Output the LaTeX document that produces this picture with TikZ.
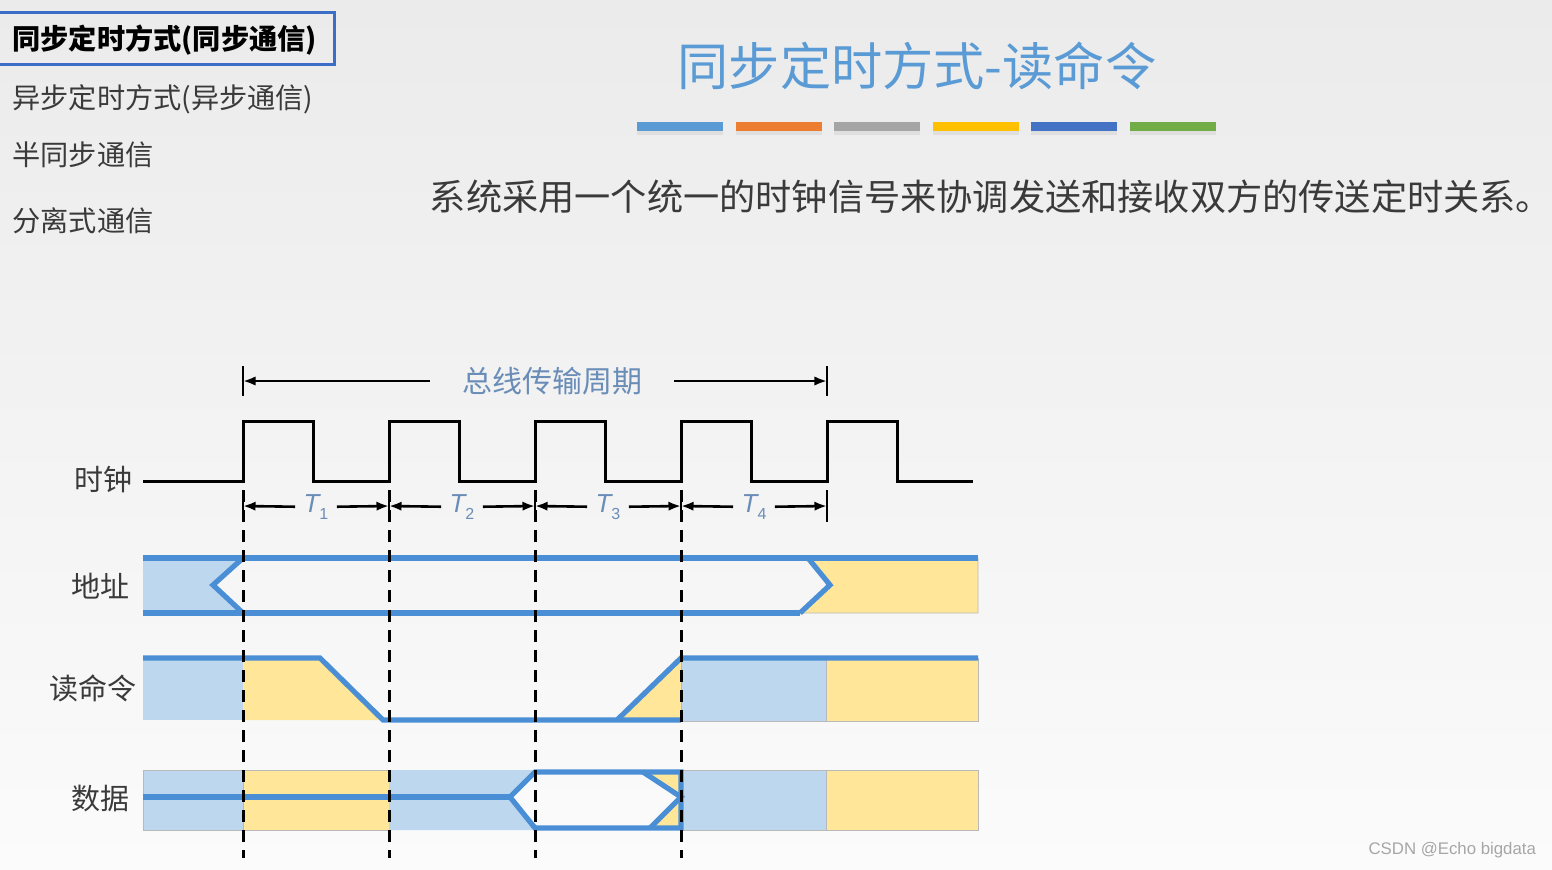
\documentclass[tikz,border=0pt]{standalone}
\usepackage{xcolor}
\usepackage{fontspec}
\setmainfont{Noto Sans CJK SC}
\newfontfamily\markfont{Liberation Sans}
\usepackage{tikz}
\usetikzlibrary{arrows.meta,positioning}
\definecolor{wire}{HTML}{4A8FD6}
\definecolor{pale}{HTML}{BDD7EE}
\definecolor{cream}{HTML}{FFE699}
\definecolor{titleblue}{HTML}{5B9BD5}
\definecolor{dimtext}{HTML}{6A8DB8}
\definecolor{ink}{HTML}{3A3A3A}
\definecolor{frame}{HTML}{3C6EC8}
\definecolor{bgtop}{HTML}{EBEBEB}
\definecolor{bgbottom}{HTML}{FBFBFB}
\definecolor{barblue}{HTML}{5B9BD5}
\definecolor{barorange}{HTML}{ED7D31}
\definecolor{bargray}{HTML}{A5A5A5}
\definecolor{bargold}{HTML}{FFC000}
\definecolor{barnavy}{HTML}{4472C4}
\definecolor{bargreen}{HTML}{70AD47}
\newcommand{\tsub}[1]{{\markfont\itshape T}\raisebox{-0.45ex}{\markfont\fontsize{8}{9}\selectfont #1}}
\tikzset{
  >={Latex[length=2.2mm]},
  menuitem/.style={anchor=west,inner sep=0pt,text=ink,font=\fontsize{14.1}{16}\selectfont},
  siglabel/.style={text=ink,font=\fontsize{14.5}{17}\selectfont},
  clockline/.style={line width=1.5pt,draw=black,line join=miter},
  wireline/.style={line width=2.6pt,draw=wire,line join=miter},
  cell/.style={draw=gray!55,line width=0.4pt},
  guide/.style={line width=1.5pt,dash pattern=on 6pt off 4pt},
  tickmark/.style={line width=1pt},
  dimarrow/.style={->,line width=1.3pt},
  dimlabel/.style={text=dimtext,inner xsep=4pt,font=\fontsize{13}{15}\selectfont},
  colorbar/.style={line width=4.5pt}
}

\begin{document}
\begin{tikzpicture}[x=0.5pt,y=-0.5pt]
  \useasboundingbox (0,0) rectangle (1552,869);
  \shade[top color=bgtop,bottom color=bgbottom] (0,0) rectangle (1552,869);

  % menu on the left
  \draw[frame,line width=1.5pt] (-2,12) rectangle (334,64);
  \node[menuitem,font=\fontsize{14.1}{16}\selectfont\bfseries,text=black] (m1) at (12,40) {同步定时方式(同步通信)};
  \node[menuitem] (m2) at (12,99) {异步定时方式(异步通信)};
  \node[menuitem] (m3) at (12,155) {半同步通信};
  \node[menuitem] (m4) at (12,221) {分离式通信};

  % title and colour bars
  \node[text=titleblue,font=\fontsize{25.6}{30}\selectfont] (title) at (917,66) {同步定时方式-读命令};
  \foreach \c [count=\i from 0] in {barblue,barorange,bargray,bargold,barnavy,bargreen} {
    \draw[colorbar,gray!25] (637+98.5*\i,130) -- ++(86,0);
    \draw[colorbar,\c] (637+98.5*\i,126) -- ++(86,0);
  }
  \node[text=ink,font=\fontsize{18.1}{21}\selectfont] (intro) at (991,197)
    {系统采用一个统一的时钟信号来协调发送和接收双方的传送定时关系。};

  % clock edges
  \foreach \i in {0,...,4} {
    \coordinate (d\i) at (243+146*\i,506);
  }
  \coordinate (p0) at (243,381);
  \coordinate (p1) at (827,381);

  % bus period
  \node[text=dimtext,inner xsep=16pt,font=\fontsize{15}{18}\selectfont] (period) at (552,381) {总线传输周期};
  \draw[dimarrow] (period) -- (p0);
  \draw[dimarrow] (period) -- (p1);
  \draw[tickmark] (243,366) -- (243,396);
  \draw[tickmark] (827,366) -- (827,396);

  % clock
  \node[siglabel] (clk) at (103,480) {时钟};
  \draw[clockline] (143,481) \foreach \x in {243,389,535,681,827} {
      -- (\x,481) -- (\x,421) -- ({\x+70},421) -- ({\x+70},481) } -- (973,481);

  % T1..T4
  \foreach \i [evaluate=\i as \j using int(\i-1)] in {1,...,4} {
    \node[dimlabel] (t\i) at (243+146*\i-73,507) {\tsub{\i}};
    \draw[dimarrow] (t\i) -- (d\j);
    \draw[dimarrow] (t\i) -- (d\i);
  }
  \foreach \i in {0,...,4} {
    \draw[tickmark] (d\i) ++(0,-16) -- ++(0,32);
  }

  % address
  \node[siglabel] (addr) at (100,586) {地址};
  \fill[pale] (143,558) -- (243,558) -- (213,585) -- (243,613) -- (143,613) -- cycle;
  \filldraw[cell,fill=cream] (808,558) -- (978,558) -- (978,613) -- (800,613) -- (830,585) -- cycle;
  \draw[wireline] (143,558) -- (978,558);
  \draw[wireline] (143,613) -- (800,613);
  \draw[wireline] (243,558) -- (213,585) -- (243,613);
  \draw[wireline] (808,558) -- (830,585) -- (800,613);

  % read command
  \node[siglabel] (rd) at (93,688) {读命令};
  \fill[pale] (143,658) rectangle (243,720);
  \fill[cream] (243,658) -- (320,658) -- (383,720) -- (243,720) -- cycle;
  \fill[cream] (617,720) -- (681,658) -- (681,720) -- cycle;
  \filldraw[cell,fill=pale] (681,658) rectangle (826,721);
  \filldraw[cell,fill=cream] (826,658) rectangle (978,721);
  \draw[wireline] (143,658) -- (320,658) -- (383,720) -- (681,720);
  \draw[wireline] (617,720) -- (681,658) -- (978,658);

  % data
  \node[siglabel] (dat) at (100,798) {数据};
  \filldraw[cell,fill=pale] (143,770) rectangle (243,830);
  \filldraw[cell,fill=cream] (243,770) rectangle (389,830);
  \fill[pale] (389,770) -- (535,770) -- (510,797) -- (535,830) -- (389,830) -- cycle;
  \fill[cream] (643,772) -- (681,772) -- (681,797) -- cycle;
  \fill[cream] (650,828) -- (681,797) -- (681,828) -- cycle;
  \filldraw[cell,fill=pale] (681,770) rectangle (826,830);
  \filldraw[cell,fill=cream] (826,770) rectangle (978,830);
  \draw[wireline] (143,797) -- (510,797);
  \draw[wireline] (510,797) -- (535,772) -- (681,772) -- (681,828) -- (535,828) -- cycle;
  \draw[wireline] (643,772) -- (681,797) -- (650,828);

  % dashed guides
  \foreach \i in {0,...,3} {
    \draw[guide] (d\i) ++(0,-16) -- ++(0,368);
  }

  \node[anchor=east,text=gray!70,font=\markfont\fontsize{8.4}{10}\selectfont] (mark) at (1543,850) {CSDN @Echo bigdata};
\end{tikzpicture}
\end{document}
